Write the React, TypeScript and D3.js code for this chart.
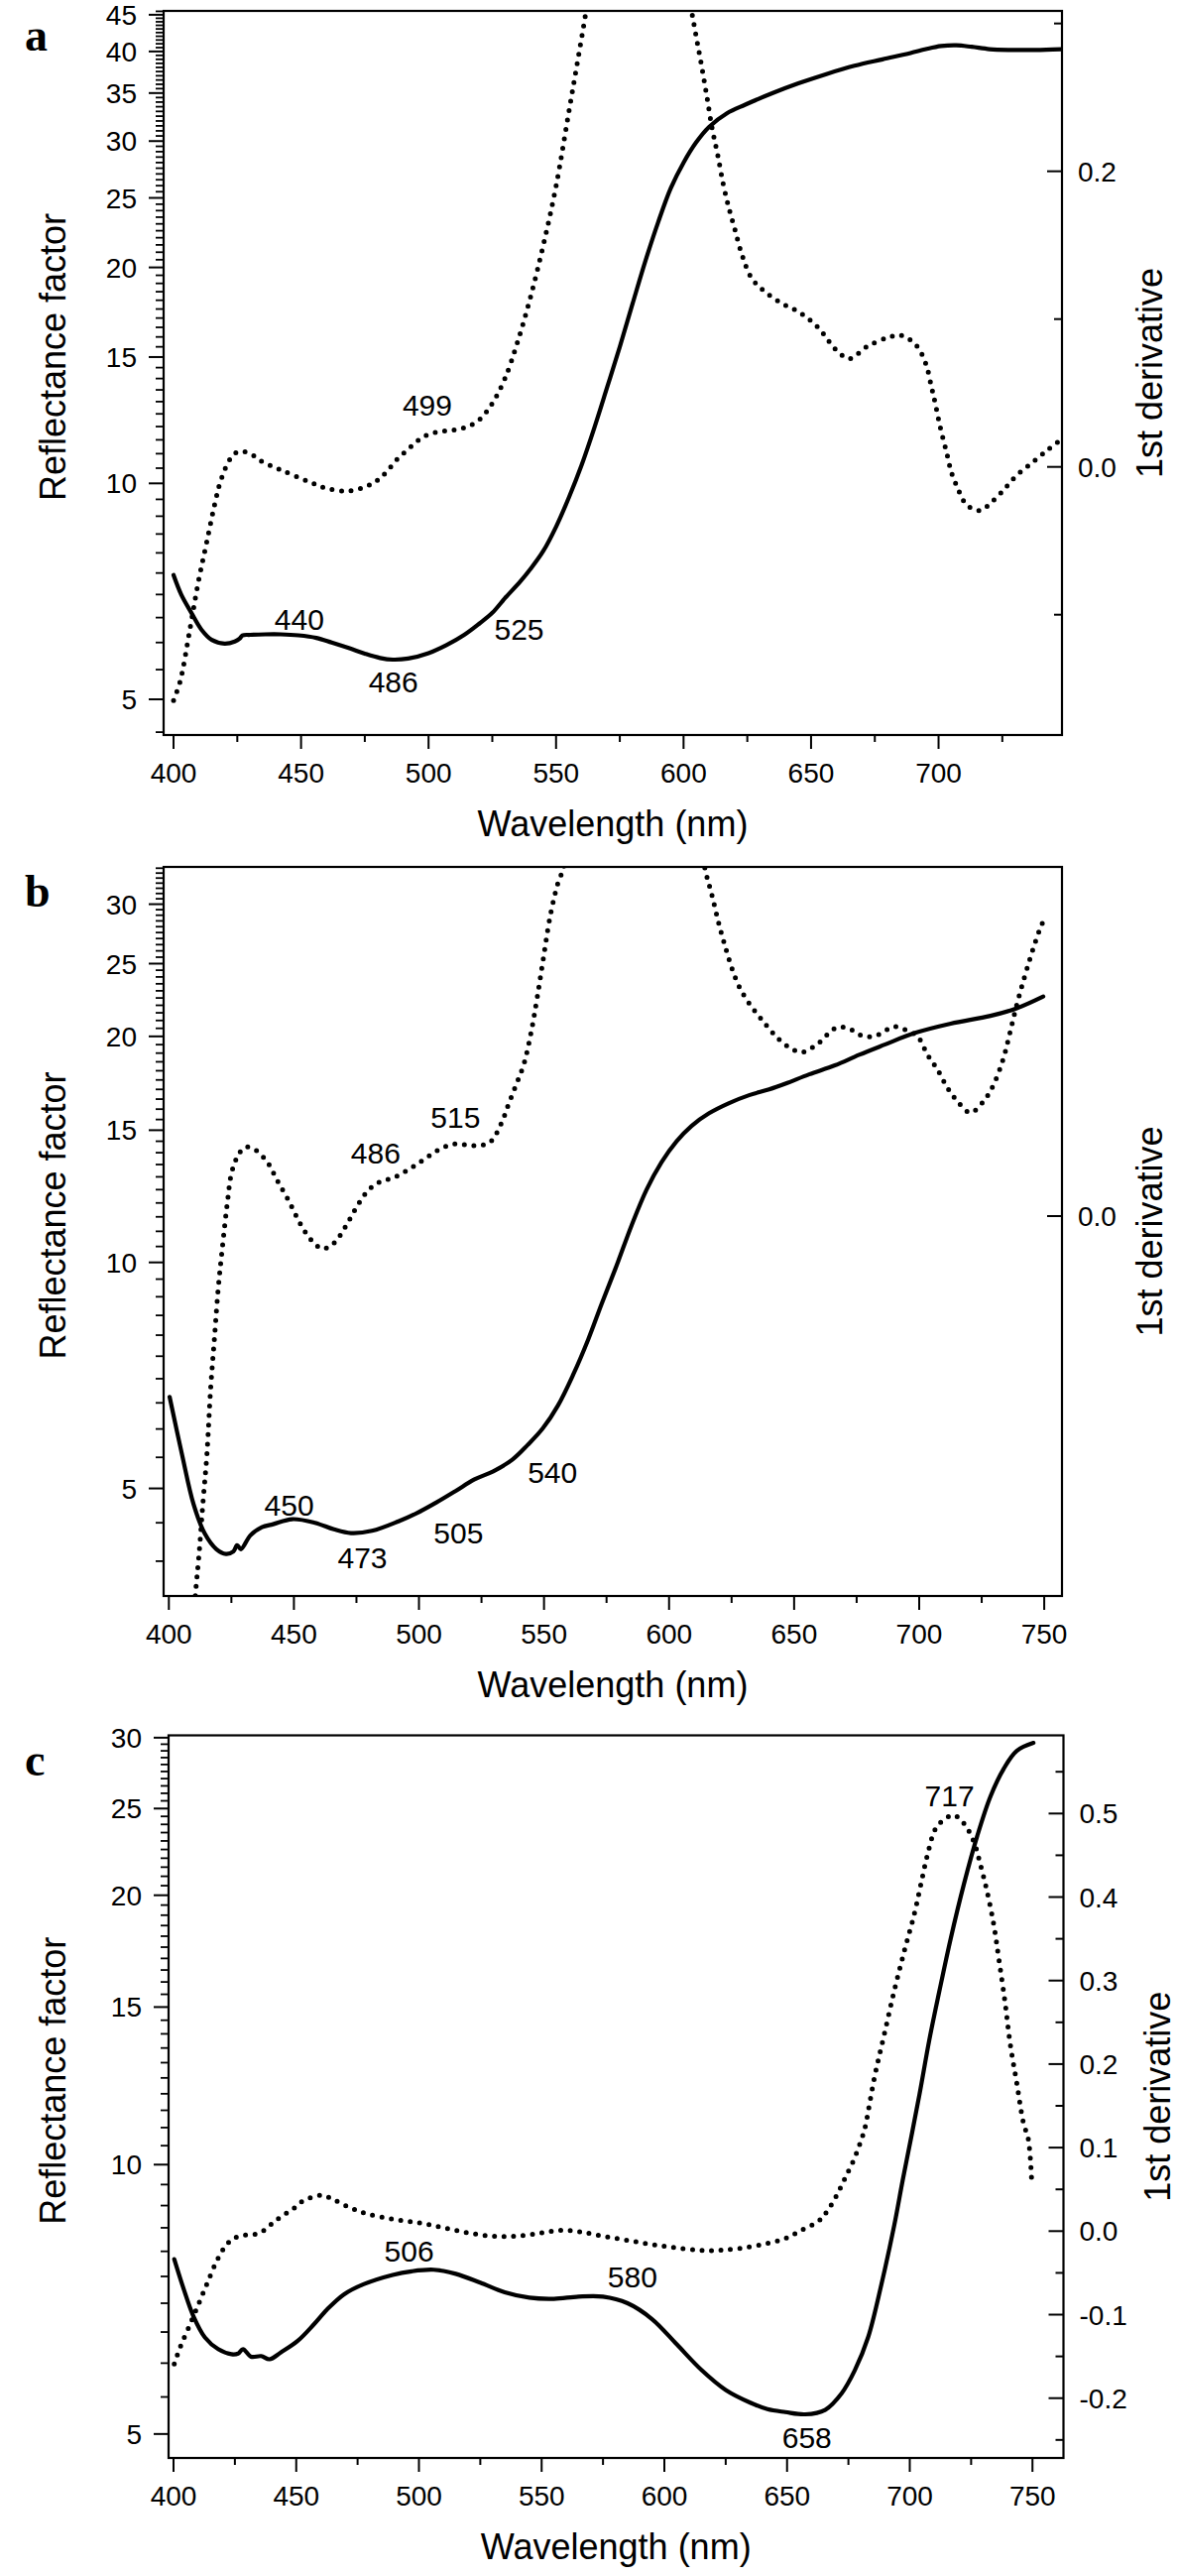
import React from 'react';
import * as d3 from 'd3';

// ---------------- Panel a data ----------------
const aSolidNm = [400, 403, 407, 411, 415, 420, 424, 426, 427, 430, 436, 442, 449, 456, 462, 469, 475, 481, 486, 492, 500, 507, 514, 520, 525, 530, 536, 540, 545, 550, 555, 560, 565, 570, 575, 580, 585, 590, 595, 600, 605, 610, 617, 624, 635, 645, 656, 667, 678, 689, 695, 701, 707, 713, 720, 728, 738, 748];
const aSolidVal = [7.45, 7.0, 6.6, 6.25, 6.05, 5.98, 6.02, 6.08, 6.14, 6.15, 6.16, 6.16, 6.14, 6.09, 6.0, 5.89, 5.79, 5.71, 5.68, 5.7, 5.8, 5.95, 6.15, 6.38, 6.6, 6.92, 7.3, 7.6, 8.05, 8.7, 9.55, 10.6, 11.95, 13.6, 15.5, 17.8, 20.4, 23.1, 25.8, 28.0, 29.9, 31.4, 32.8, 33.7, 35.0, 36.1, 37.2, 38.2, 39.0, 39.8, 40.3, 40.7, 40.8, 40.6, 40.3, 40.2, 40.2, 40.3];
const aDerivNm = [400, 402.6, 406.5, 409.7, 413, 416.3, 418.2, 421.4, 424, 427.2, 431, 434.3, 442, 452.5, 460, 468.7, 475.9, 480, 483.7, 487.6, 492, 496, 500, 505, 510, 515, 520, 525, 530, 535, 540, 545, 550, 555, 560, 565, 575, 585, 595, 601, 604.7, 606.9, 609.1, 611.2, 613.4, 615.6, 617.8, 620, 622.9, 626.6, 631.6, 638.2, 645.5, 652.7, 660, 665.1, 671.6, 680.4, 685.5, 691.3, 695, 697.2, 698.7, 700.6, 703.2, 705.1, 707.7, 710.3, 713.5, 716.8, 720, 725.2, 730.4, 736.9, 742.1, 746.6];
const aDerivVal = [-0.158, -0.145, -0.109, -0.078, -0.051, -0.024, -0.011, 0.003, 0.009, 0.0105, 0.008, 0.004, -0.002, -0.0096, -0.0145, -0.0163, -0.013, -0.009, -0.003, 0.005, 0.012, 0.018, 0.022, 0.024, 0.025, 0.027, 0.032, 0.043, 0.06, 0.085, 0.115, 0.15, 0.19, 0.24, 0.29, 0.34, 0.42, 0.45, 0.4, 0.33, 0.2935, 0.273, 0.251, 0.229, 0.211, 0.191, 0.175, 0.1615, 0.1436, 0.128, 0.119, 0.111, 0.1045, 0.0944, 0.0788, 0.0732, 0.081, 0.0877, 0.0889, 0.0821, 0.0698, 0.0542, 0.043, 0.0273, 0.0094, -0.004, -0.0152, -0.0242, -0.0286, -0.0293, -0.0252, -0.0163, -0.0062, 0.0032, 0.0105, 0.0166];
const aXTicks = [400, 450, 500, 550, 600, 650, 700];
const aYTicks = [5, 10, 15, 20, 25, 30, 35, 40, 45];
const aY2Ticks = [0, 0.2];
const aY2Minor = [-0.1, 0.1, 0.3];
const aLabels = ['440', '486', '525', '499'];
const aLabelNm = [449.3, 486.2, 535.5, 499.5];
const aLabelVal = [6.25, 5.11, 6.05, 12.41];

// ---------------- Panel b data ----------------
const bSolidNm = [400.3, 405.3, 409.9, 414.4, 419, 422.8, 425.8, 427.3, 428.8, 432.6, 437.2, 441.7, 449.3, 458.4, 466, 472.8, 481.2, 491.8, 499.4, 507, 514.6, 522.2, 529.7, 537.3, 543.4, 549.5, 555.6, 561.6, 567.7, 573, 579, 585, 591, 597, 603, 609, 616, 624, 632, 640, 646.5, 656, 666.3, 676, 686.2, 698, 712.6, 728.5, 739, 749.6];
const bSolidVal = [6.62, 5.54, 4.76, 4.35, 4.15, 4.09, 4.12, 4.2, 4.15, 4.33, 4.44, 4.48, 4.55, 4.5, 4.41, 4.36, 4.39, 4.52, 4.64, 4.79, 4.96, 5.14, 5.27, 5.46, 5.71, 6.01, 6.45, 7.08, 7.9, 8.8, 9.9, 11.2, 12.5, 13.6, 14.5, 15.2, 15.8, 16.3, 16.7, 17.0, 17.3, 17.8, 18.3, 18.9, 19.5, 20.2, 20.8, 21.3, 21.8, 22.6];
const bDerivNm = [409, 410.6, 412.1, 413.6, 415.2, 416.7, 418.2, 419.7, 421.3, 423.5, 425, 427.3, 430.3, 434.1, 439.4, 443.3, 447.8, 452.5, 456.9, 461.5, 466, 470.6, 475.1, 479.7, 484.2, 490.3, 496.4, 502.4, 508.5, 514.6, 522.2, 528.3, 532.8, 535.8, 538.9, 541.9, 544.9, 547.2, 549.5, 552.5, 555.6, 557.8, 562, 575, 590, 605, 614, 617, 621.5, 628.3, 638, 646.5, 653.1, 659.7, 666.3, 671, 678.2, 683.5, 690.1, 695.4, 699.4, 703.3, 707.3, 711.3, 715.2, 720.5, 725.8, 729.8, 733.7, 736.4, 739, 742, 745, 748, 750.5];
const bDerivVal = [-0.18, -0.153, -0.136, -0.116, -0.0963, -0.0696, -0.0496, -0.0296, -0.0136, 0.0064, 0.0171, 0.0237, 0.0277, 0.027, 0.0217, 0.0144, 0.0064, -0.003, -0.0096, -0.0132, -0.0109, -0.0043, 0.0037, 0.0104, 0.0137, 0.0157, 0.0191, 0.0231, 0.0271, 0.0291, 0.0284, 0.0297, 0.0371, 0.0451, 0.0531, 0.0611, 0.0744, 0.0877, 0.1024, 0.1211, 0.1344, 0.1404, 0.17, 0.26, 0.29, 0.22, 0.142, 0.13, 0.112, 0.092, 0.078, 0.0691, 0.0661, 0.0697, 0.0757, 0.076, 0.0724, 0.0731, 0.0764, 0.0747, 0.0724, 0.0651, 0.0591, 0.0517, 0.0464, 0.0417, 0.0464, 0.0531, 0.0637, 0.0744, 0.0851, 0.096, 0.106, 0.115, 0.121];
const bXTicks = [400, 450, 500, 550, 600, 650, 700, 750];
const bYTicks = [5, 10, 15, 20, 25, 30];
const bY2Ticks = [0];
const bY2Minor: number[] = [];
const bLabels = ['450', '473', '505', '540', '486', '515'];
const bLabelNm = [448.1, 477.4, 515.8, 553.4, 482.7, 514.6];
const bLabelVal = [4.6, 3.91, 4.22, 5.08, 13.54, 15.12];

// ---------------- Panel c data ----------------
const cSolidNm = [400.3, 404, 408.1, 412.8, 418.2, 423.6, 426.3, 428.3, 431.6, 435.7, 439.1, 443.8, 450.5, 457.2, 462.6, 469.4, 477.4, 489.3, 497, 506, 515, 525, 535, 545, 555, 565, 575, 585, 595, 605, 615, 625, 635, 642, 649.3, 657.4, 665.5, 672.2, 677.6, 683, 688.4, 693.7, 697.1, 700.5, 704, 708, 712, 716.7, 722.1, 727.5, 732.9, 738.3, 743.6, 750.4];
const cSolidVal = [7.84, 7.28, 6.77, 6.41, 6.22, 6.14, 6.15, 6.22, 6.1, 6.11, 6.06, 6.17, 6.35, 6.63, 6.89, 7.16, 7.35, 7.53, 7.6, 7.63, 7.55, 7.38, 7.2, 7.1, 7.08, 7.12, 7.12, 7.0, 6.72, 6.3, 5.9, 5.6, 5.42, 5.33, 5.29, 5.26, 5.32, 5.55, 5.89, 6.41, 7.34, 8.56, 9.6, 10.7, 12.0, 13.8, 15.6, 17.9, 20.6, 23.3, 25.8, 27.7, 29.0, 29.6];
const cDerivNm = [400.3, 402.7, 406.1, 410.1, 413.5, 417.5, 421.5, 425, 428.9, 433, 436.4, 439.7, 443.1, 449.2, 453.2, 460.6, 465.3, 472.1, 478.8, 489.3, 500, 510, 520, 530, 540, 550, 558, 566, 575, 585, 595, 605, 615, 622, 630, 640, 649.3, 656, 662.8, 666.1, 670.2, 673.5, 677.6, 680.3, 681.6, 685.7, 689.7, 693.7, 697.8, 701.8, 704.5, 707.2, 710.6, 714.6, 718, 722.1, 726.1, 728.8, 731.5, 734.2, 736.2, 738.9, 740.9, 743.6, 746.3, 748.3, 749.6];
const cDerivVal = [-0.159, -0.139, -0.116, -0.088, -0.064, -0.0365, -0.0166, -0.008, -0.0048, -0.004, 0.0, 0.0079, 0.0158, 0.0277, 0.0368, 0.0428, 0.0376, 0.0277, 0.0209, 0.0143, 0.01, 0.004, -0.002, -0.006, -0.006, -0.002, 0.001, -0.001, -0.006, -0.011, -0.016, -0.02, -0.023, -0.023, -0.021, -0.016, -0.0088, 0.0012, 0.0119, 0.0229, 0.0428, 0.0625, 0.0882, 0.11, 0.1219, 0.1853, 0.2367, 0.2881, 0.3356, 0.3792, 0.4149, 0.4505, 0.4822, 0.494, 0.498, 0.488, 0.4663, 0.4386, 0.4069, 0.3673, 0.3278, 0.2723, 0.2248, 0.1773, 0.1298, 0.11, 0.0645];
const cXTicks = [400, 450, 500, 550, 600, 650, 700, 750];
const cYTicks = [5, 10, 15, 20, 25, 30];
const cY2Ticks = [-0.2, -0.1, 0, 0.1, 0.2, 0.3, 0.4, 0.5];
const cY2Minor = [-0.25, -0.15, -0.05, 0.05, 0.15, 0.25, 0.35, 0.45, 0.55];
const cLabels = ['506', '580', '658', '717'];
const cLabelNm = [496, 587, 658.1, 716.2];
const cLabelVal = [7.79, 7.3, 4.82, 25.17];

// ---------------- Layout (styles/positions) ----------------
const FONT = "'Liberation Sans', Arial, Helvetica, sans-serif";
const SERIF = "'Liberation Serif', 'Times New Roman', serif";
const TICK_FS = 28;
const ANN_FS = 30;
const TITLE_FS = 36;

const panels = [
  {
    letter: 'a', box: { left: 165, right: 1071, top: 11, bottom: 741 },
    xDomain: [396.1, 748.4], yDomain: [4.459, 45.56], y2Domain: [-0.1814, 0.3085],
    solidNm: aSolidNm, solidVal: aSolidVal, derivNm: aDerivNm, derivVal: aDerivVal,
    xTicks: aXTicks, yTicks: aYTicks, y2Ticks: aY2Ticks, y2Minor: aY2Minor,
    labels: aLabels, labelNm: aLabelNm, labelVal: aLabelVal, rightTitleX: 1172,
  },
  {
    letter: 'b', box: { left: 165, right: 1071, top: 874, bottom: 1609 },
    xDomain: [397.9, 757.1], yDomain: [3.595, 33.63], y2Domain: [-0.1532, 0.1408],
    solidNm: bSolidNm, solidVal: bSolidVal, derivNm: bDerivNm, derivVal: bDerivVal,
    xTicks: bXTicks, yTicks: bYTicks, y2Ticks: bY2Ticks, y2Minor: bY2Minor,
    labels: bLabels, labelNm: bLabelNm, labelVal: bLabelVal, rightTitleX: 1172,
  },
  {
    letter: 'c', box: { left: 170, right: 1072.5, top: 1749.5, bottom: 2478 },
    xDomain: [397.98, 762.63], yDomain: [4.701, 30.18], y2Domain: [-0.2716, 0.5936],
    solidNm: cSolidNm, solidVal: cSolidVal, derivNm: cDerivNm, derivVal: cDerivVal,
    xTicks: cXTicks, yTicks: cYTicks, y2Ticks: cY2Ticks, y2Minor: cY2Minor,
    labels: cLabels, labelNm: cLabelNm, labelVal: cLabelVal, rightTitleX: 1180,
  },
];

const fmt2 = (v: number) => (v < 0 ? '-' : '') + Math.abs(v).toFixed(1);

function Panel({ p, idx }: { p: any; idx: number }) {
  const { left, right, top, bottom } = p.box;
  const x = d3.scaleLinear().domain(p.xDomain).range([left, right]);
  const y = d3.scaleLog().domain(p.yDomain).range([bottom, top]);
  const y2 = d3.scaleLinear().domain(p.y2Domain).range([bottom, top]);

  const solidLine = d3.line<number>()
    .x((d, i) => x(p.solidNm[i]))
    .y((d) => y(d))
    .curve(d3.curveCatmullRom.alpha(0.5));
  const derivLine = d3.line<number>()
    .x((d, i) => x(p.derivNm[i]))
    .y((d) => y2(d))
    .curve(d3.curveCatmullRom.alpha(0.5));

  const xMinor: number[] = [];
  for (let v = Math.ceil(p.xDomain[0] / 25) * 25; v <= p.xDomain[1]; v += 25) {
    if (v % 50 !== 0) xMinor.push(v);
  }
  const yMinor: number[] = [];
  for (let v = Math.ceil(p.yDomain[0] * 2) / 2; v <= p.yDomain[1]; v += 0.5) {
    if (Math.abs(v % 5) > 1e-6) yMinor.push(v);
  }

  const clipId = `clip-${idx}`;
  const midY = (top + bottom) / 2;
  const midX = (left + right) / 2;
  const half = TICK_FS * 0.358;

  return (
    <g>
      <defs>
        <clipPath id={clipId}>
          <rect x={left} y={top} width={right - left} height={bottom - top} />
        </clipPath>
      </defs>
      <text x={25} y={top + 40} fontFamily={SERIF} fontWeight="bold" fontSize={46}>{p.letter}</text>

      <g clipPath={`url(#${clipId})`}>
        <path d={derivLine(p.derivVal) || ''} fill="none" stroke="#000" strokeWidth={5}
          strokeDasharray="0 9.6" strokeLinecap="round" />
        <path d={solidLine(p.solidVal) || ''} fill="none" stroke="#000" strokeWidth={4.2}
          strokeLinejoin="round" strokeLinecap="round" />
      </g>

      <rect x={left} y={top} width={right - left} height={bottom - top} fill="none" stroke="#000" strokeWidth={2.2} />

      {p.xTicks.map((t: number) => (
        <g key={'xt' + t}>
          <line x1={x(t)} x2={x(t)} y1={bottom} y2={bottom + 14} stroke="#000" strokeWidth={2} />
          <text x={x(t)} y={bottom + 48} textAnchor="middle" fontFamily={FONT} fontSize={TICK_FS}>{t}</text>
        </g>
      ))}
      {xMinor.map((t) => (
        <line key={'xm' + t} x1={x(t)} x2={x(t)} y1={bottom} y2={bottom + 7} stroke="#000" strokeWidth={2} />
      ))}

      {p.yTicks.map((t: number) => (
        <g key={'yt' + t}>
          <line x1={left - 15} x2={left} y1={y(t)} y2={y(t)} stroke="#000" strokeWidth={2} />
          <text x={left - 27} y={y(t) + half} textAnchor="end" fontFamily={FONT} fontSize={TICK_FS}>{t}</text>
        </g>
      ))}
      {yMinor.map((t) => (
        <line key={'ym' + t} x1={left - 8} x2={left} y1={y(t)} y2={y(t)} stroke="#000" strokeWidth={1.8} />
      ))}

      {p.y2Ticks.map((t: number) => (
        <g key={'rt' + t}>
          <line x1={right - 15} x2={right} y1={y2(t)} y2={y2(t)} stroke="#000" strokeWidth={2} />
          <text x={right + 16} y={y2(t) + half} textAnchor="start" fontFamily={FONT} fontSize={TICK_FS}>{fmt2(t)}</text>
        </g>
      ))}
      {p.y2Minor.map((t: number) => (
        <line key={'rm' + t} x1={right - 8} x2={right} y1={y2(t)} y2={y2(t)} stroke="#000" strokeWidth={2} />
      ))}

      <text x={midX} y={bottom + 102} textAnchor="middle" fontFamily={FONT} fontSize={TITLE_FS}>Wavelength (nm)</text>
      <text transform={`translate(66,${midY - 16}) rotate(-90)`} textAnchor="middle" fontFamily={FONT} fontSize={TITLE_FS}>Reflectance factor</text>
      <text transform={`translate(${p.rightTitleX},${midY}) rotate(-90)`} textAnchor="middle" fontFamily={FONT} fontSize={TITLE_FS}>1st derivative</text>

      {p.labels.map((s: string, i: number) => (
        <text key={'lb' + i} x={x(p.labelNm[i])} y={y(p.labelVal[i])} textAnchor="middle" fontFamily={FONT} fontSize={ANN_FS}>{s}</text>
      ))}
    </g>
  );
}

export default function App() {
  return (
    <div style={{ position: 'absolute', left: 0, top: 0, width: 1188, height: 2597, background: '#fff' }}>
      <svg width={1188} height={2597} viewBox="0 0 1188 2597" xmlns="http://www.w3.org/2000/svg" style={{ display: 'block' }}>
        <rect width={1188} height={2597} fill="#fff" />
        {panels.map((p, i) => <Panel key={p.letter} p={p} idx={i} />)}
      </svg>
    </div>
  );
}
